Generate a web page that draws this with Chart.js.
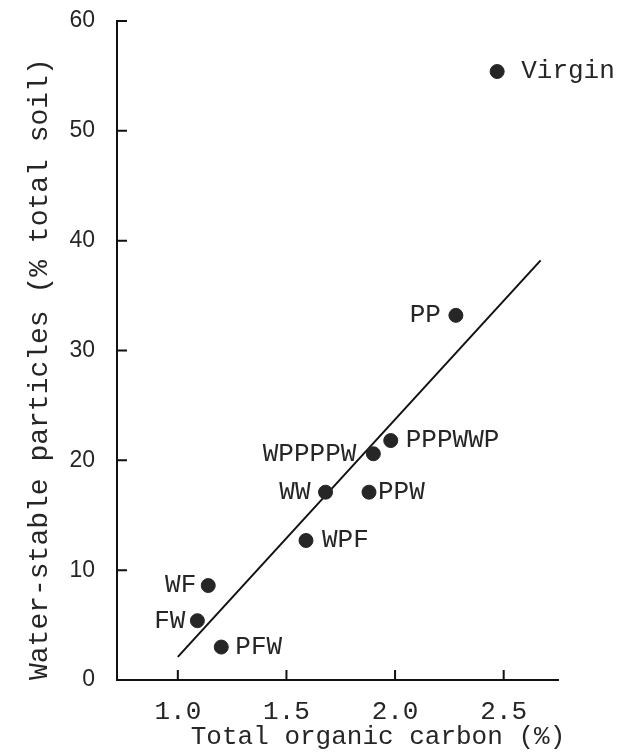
<!DOCTYPE html>
<html>
<head>
<meta charset="utf-8">
<script src="https://cdn.jsdelivr.net/npm/chart.js@4"></script>
<style>
  html, body { margin: 0; padding: 0; background: #fff; }
  #wrap { width: 624px; height: 753px; }
</style>
</head>
<body>
<div id="wrap"><canvas id="scatter"></canvas></div>
<script>
// rotation names and measured values
const rotations = ["Virgin", "PP", "PPPWWP", "WPPPPW", "WW", "PPW", "WPF", "WF", "FW", "PFW"]
const carbon = [2.47, 2.28, 1.98, 1.90, 1.68, 1.88, 1.59, 1.14, 1.09, 1.20]
const stable = [55.4, 33.2, 21.8, 20.6, 17.1, 17.1, 12.7, 8.6, 5.4, 3.0]

// regression line end points
const fitX = [1.0, 2.67]
const fitY = [2.1, 38.2]

const xTicks = [1.0, 1.5, 2.0, 2.5]

const mono = "'Liberation Mono', 'Courier New', monospace"
const ink = "#262626"

// how far each name sits from its dot (negative = left side)
const labelShift = {
  Virgin: 24, PP: -15, PPPWWP: 15, WPPPPW: -17, WW: -15,
  PPW: 9, WPF: 16, WF: -12, FW: -12, PFW: 14
}

const pointNames = {
  id: "pointNames",
  afterDatasetsDraw(chart) {
    const ctx = chart.ctx
    const meta = chart.getDatasetMeta(0)
    ctx.save()
    ctx.font = "26px " + mono
    ctx.fillStyle = ink
    ctx.textBaseline = "middle"
    meta.data.forEach((pt, i) => {
      const name = rotations[i]
      const dx = labelShift[name]
      ctx.textAlign = dx < 0 ? "right" : "left"
      ctx.fillText(name, pt.x + dx, pt.y)
    })
    ctx.restore()
  }
}

// ticks on the inside of both axes, plus the axis titles
const axisDecor = {
  id: "axisDecor",
  afterDraw(chart) {
    const ctx = chart.ctx
    const xs = chart.scales.x, ys = chart.scales.y
    const area = chart.chartArea
    ctx.save()
    ctx.strokeStyle = "#111"
    ctx.lineWidth = 2
    ctx.beginPath()
    xs.ticks.forEach(t => {
      const px = xs.getPixelForValue(t.value)
      ctx.moveTo(px, area.bottom)
      ctx.lineTo(px, area.bottom - 10)
    })
    ys.ticks.forEach(t => {
      const py = ys.getPixelForValue(t.value)
      ctx.moveTo(area.left, py)
      ctx.lineTo(area.left + 10, py)
    })
    ctx.stroke()

    ctx.fillStyle = ink
    ctx.font = "26px " + mono
    ctx.textAlign = "center"
    ctx.textBaseline = "middle"
    ctx.fillText("Total organic carbon (%)", 378, 737)

    ctx.translate(40, 680)
    ctx.rotate(-Math.PI / 2)
    ctx.font = "28px " + mono
    ctx.textAlign = "left"
    ctx.fillText("Water-stable particles (% total soil)", 0, 0)
    ctx.restore()
  }
}

new Chart(document.getElementById("scatter"), {
  type: "scatter",
  data: {
    datasets: [
      {
        data: carbon.map((c, i) => ({ x: c, y: stable[i] })),
        backgroundColor: ink,
        borderColor: ink,
        pointRadius: 7,
        pointHoverRadius: 7
      },
      {
        type: "line",
        data: fitX.map((c, i) => ({ x: c, y: fitY[i] })),
        borderColor: "#111",
        borderWidth: 2,
        pointRadius: 0,
        fill: false
      }
    ]
  },
  plugins: [pointNames, axisDecor],
  options: {
    responsive: true,
    maintainAspectRatio: false,
    animation: false,
    layout: { padding: { top: 21, right: 66, left: 0, bottom: 0 } },
    plugins: {
      legend: { display: false },
      tooltip: { enabled: false }
    },
    scales: {
      x: {
        type: "linear",
        min: 0.72,
        max: 2.75,
        afterBuildTicks: s => { s.ticks = xTicks.map(v => ({ value: v })) },
        afterFit: s => { s.height = 73 },
        grid: { display: false, drawTicks: false },
        border: { display: true, color: "#111", width: 2 },
        ticks: {
          padding: 17,
          color: ink,
          font: { family: mono, size: 26 },
          callback: v => v.toFixed(1)
        }
      },
      y: {
        min: 0,
        max: 60,
        afterFit: s => {
          s.width = 117
          s.paddingTop = 0
          s.paddingBottom = 0
        },
        grid: { display: false, drawTicks: false },
        border: { display: true, color: "#111", width: 2 },
        ticks: {
          stepSize: 10,
          padding: 22,
          color: ink,
          font: { family: "'Liberation Sans', Arial, sans-serif", size: 23 }
        }
      }
    }
  }
})
</script>
</body>
</html>
